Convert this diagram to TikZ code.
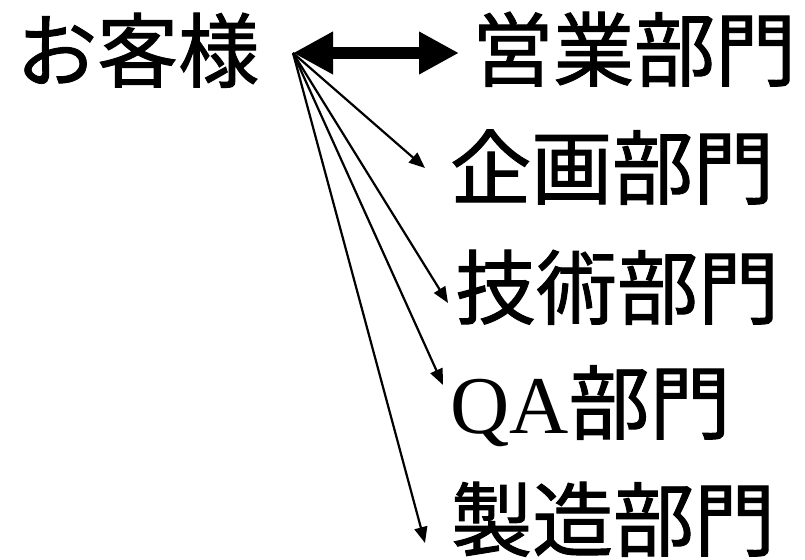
\documentclass[tikz,border=0pt]{standalone}
\usepackage{fontspec}
\setmainfont{Liberation Serif}
\newfontfamily\cjk[FakeBold=1.2]{Noto Sans CJK JP}
\usetikzlibrary{arrows.meta}
\begin{document}
\begin{tikzpicture}[x=1pt,y=1pt,
  lbl/.style={anchor=base west, inner sep=0pt, font=\cjk\fontsize{81}{81}\selectfont},
  thinarrow/.style={line width=2.2pt, -{Triangle[length=16pt,width=13pt]}},
  thickarrow/.style={line width=12pt, {Triangle[length=40pt,width=40pt]}-{Triangle[length=40pt,width=40pt]}}]
\useasboundingbox (0,0) rectangle (805,-559);
% labels
\node[lbl] (cust)  at (16,-81)  {お客様};
\node[lbl] (sales) at (472,-80) {営業部門};
\node[lbl] (plan)  at (450,-198) {企画部門};
\node[lbl] (tech)  at (455,-318) {技術部門};
\node[lbl] (qa)    at (450,-433) {{\rmfamily\fontsize{82}{82}\selectfont QA}部門};
\node[lbl] (mfg)   at (451,-550) {製造部門};
% connector points
\coordinate (hub) at (293,-53);
\coordinate (tsales) at (459,-53);
\coordinate (tplan) at (425,-168);
\coordinate (ttech) at (448,-303);
\coordinate (tqa) at (443,-385);
\coordinate (tmfg) at (425,-543);
% connectors
\draw[thickarrow] (hub) -- (tsales);
\draw[thinarrow] (hub) -- (tplan);
\draw[thinarrow] (hub) -- (ttech);
\draw[thinarrow] (hub) -- (tqa);
\draw[thinarrow] (hub) -- (tmfg);
\end{tikzpicture}
\end{document}
